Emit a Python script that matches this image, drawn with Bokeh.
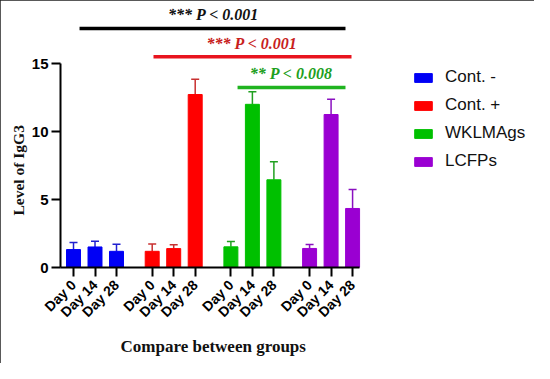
from math import pi
from bokeh.plotting import figure
from bokeh.models import (ColumnDataSource, FixedTicker, Range1d, Legend, LegendItem,
                          Label, Whisker, TeeHead, Title)
from bokeh.embed import file_html
from bokeh.resources import INLINE

# ---------------- data ----------------
groups = ["Cont. -", "Cont. +", "WKLMAgs", "LCFPs"]
days = ["Day 0", "Day 14", "Day 28"]
mean_cont_neg = [1.32, 1.51, 1.19]
sd_cont_neg = [0.51, 0.42, 0.52]
mean_cont_pos = [1.19, 1.39, 12.72]
sd_cont_pos = [0.54, 0.29, 1.13]
mean_wklmags = [1.52, 12.0, 6.45]
sd_wklmags = [0.39, 0.92, 1.32]
mean_lcfps = [1.40, 11.25, 4.34]
sd_lcfps = [0.29, 1.13, 1.39]
y_ticks = [0, 5, 10, 15]
comparisons = ["*** P < 0.001", "*** P < 0.001", "** P < 0.008"]
x_title = "Compare between groups"
y_title = "Level of IgG3"

means = [mean_cont_neg, mean_cont_pos, mean_wklmags, mean_lcfps]
sds = [sd_cont_neg, sd_cont_pos, sd_wklmags, sd_lcfps]

# ---------------- style ----------------
bar_colors = ["#0000F5", "#FF0000", "#00C000", "#9A00D2"]
err_colors = ["#2020D0", "#C83030", "#20A020", "#8A10C0"]
GROUP_STEP = 3.66
BAR_W = 0.65

p = figure(width=534, height=363, output_backend="svg", toolbar_location=None,
           x_range=Range1d(-0.605, 21.255), y_range=Range1d(0, 19.34),
           min_border_left=60, min_border_right=4, min_border_top=4, min_border_bottom=96)
p.styles = {"outline": "2px solid #222222", "outline-offset": "-2px"}
p.xgrid.visible = False
p.ygrid.visible = False
p.outline_line_color = None
p.background_fill_color = "white"
p.border_fill_color = "white"

positions = []
labels = {}
legend_items = []
for g, (name, m, s) in enumerate(zip(groups, means, sds)):
    xs = [g * GROUP_STEP + i for i in range(len(days))]
    positions += xs
    for x, d in zip(xs, days):
        labels[x] = d
    src = ColumnDataSource(dict(x=xs, top=m, upper=[a + b for a, b in zip(m, s)]))
    r = p.vbar(x="x", top="top", width=BAR_W, source=src, fill_color=bar_colors[g],
               line_color=bar_colors[g], line_width=1)
    w = Whisker(base="x", lower="top", upper="upper", source=src, dimension="height",
                line_color=err_colors[g], line_width=1.5,
                upper_head=TeeHead(size=8, line_color=err_colors[g], line_width=1.5),
                lower_head=None, level="underlay")
    p.add_layout(w)
    legend_items.append(LegendItem(label=name, renderers=[r]))

# axes
xa = p.xaxis[0]
xa.ticker = FixedTicker(ticks=positions)
xa.major_label_overrides = labels
xa.bounds = (-0.605, 2 + 3 * GROUP_STEP + 0.33)
xa.major_label_orientation = pi / 4
xa.minor_tick_line_color = None
xa.major_tick_in = 0
xa.major_tick_out = 9
xa.axis_line_width = 2
xa.major_tick_line_width = 2
xa.major_label_text_font = "Liberation Sans"
xa.major_label_text_font_style = "bold"
xa.major_label_text_font_size = "14px"
xa.major_label_text_color = "black"
xa.major_label_standoff = 6

ya = p.yaxis[0]
ya.ticker = FixedTicker(ticks=y_ticks)
ya.bounds = (0, 15)
ya.minor_tick_line_color = None
ya.major_tick_in = 0
ya.major_tick_out = 9
ya.axis_line_width = 2
ya.major_tick_line_width = 2
ya.major_label_text_font = "Liberation Sans"
ya.major_label_text_font_style = "bold"
ya.major_label_text_font_size = "15px"
ya.major_label_text_color = "black"
ya.major_label_standoff = 3

# axis titles as side titles (off-centre like the original)
p.add_layout(Title(text=x_title, align="left", offset=60, standoff=13,
                   text_font="Liberation Serif", text_font_style="bold",
                   text_font_size="17px", text_color="#111111"), "below")
p.add_layout(Title(text=y_title, align="left", offset=52, standoff=4,
                   text_font="Liberation Serif", text_font_style="bold",
                   text_font_size="15.5px", text_color="#111111"), "left")

# significance brackets
br_x0 = [0.28, 3.72, 7.63]
br_x1 = [12.65, 12.93, 12.65]
br_y = [17.57, 15.49, 13.24]
txt_x = [6.51, 8.30, 10.12]
txt_y = [18.57, 16.47, 14.28]
br_colors = ["#000000", "#E8141E", "#20B420"]
txt_colors = ["#111111", "#C81E1E", "#1EA01E"]
p.segment(x0=br_x0, x1=br_x1, y0=br_y, y1=br_y, line_color=br_colors, line_width=3.5)
for tx, ty, t, c in zip(txt_x, txt_y, comparisons, txt_colors):
    p.add_layout(Label(x=tx, y=ty, text=t, text_align="center", text_baseline="middle",
                       text_font="Liberation Serif", text_font_style="bold italic",
                       text_font_size="16px", text_color=c))

legend = Legend(items=legend_items, location=(352, 96), orientation="vertical",
                glyph_width=22, glyph_height=11, label_height=20, spacing=8,
                label_standoff=11, padding=0, margin=0,
                label_text_font="Liberation Sans", label_text_font_size="17px",
                label_text_color="#111111",
                border_line_color=None, background_fill_alpha=0)
p.add_layout(legend)

open("out.html", "w").write(file_html(p, INLINE))
